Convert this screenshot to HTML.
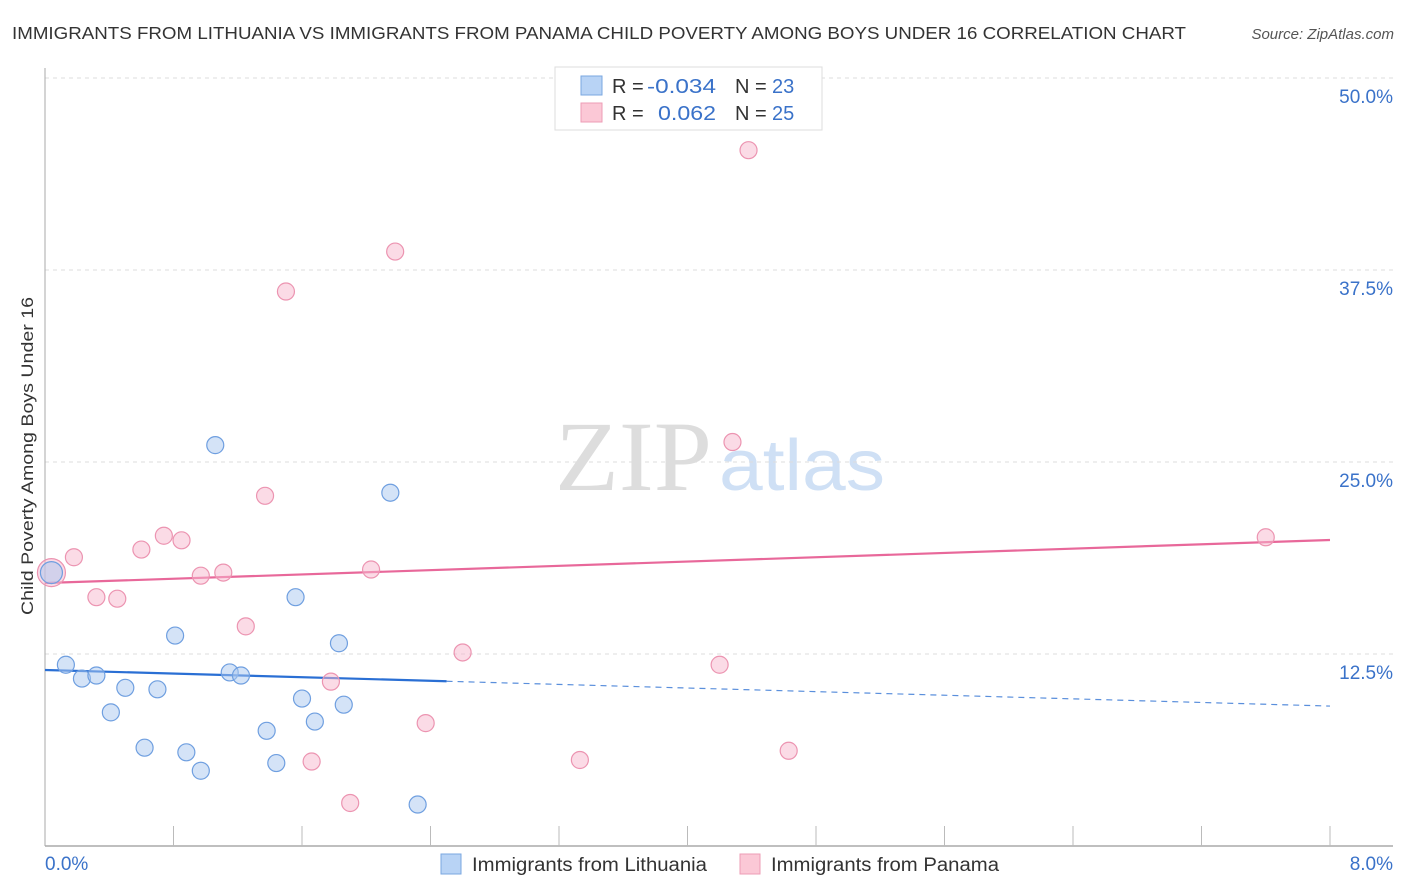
<!DOCTYPE html>
<html><head><meta charset="utf-8">
<style>
body{margin:0;background:#fff;font-family:"Liberation Sans",sans-serif;}
svg{display:block}
</style></head>
<body>
<svg id="chart" width="1406" height="892" xmlns="http://www.w3.org/2000/svg">
<text x="12" y="39" font-size="17.5" fill="#333" textLength="1174" lengthAdjust="spacingAndGlyphs">IMMIGRANTS FROM LITHUANIA VS IMMIGRANTS FROM PANAMA CHILD POVERTY AMONG BOYS UNDER 16 CORRELATION CHART</text>
<text x="1394" y="39" font-size="15" fill="#555" font-style="italic" text-anchor="end">Source: ZipAtlas.com</text>
<text x="33" y="615" font-size="17" fill="#333" textLength="318" lengthAdjust="spacingAndGlyphs" transform="rotate(-90 33 615)">Child Poverty Among Boys Under 16</text>
<g>
<text x="555" y="490" font-size="100" fill="#ddd" font-family="Liberation Serif,serif" textLength="157" lengthAdjust="spacingAndGlyphs">ZIP</text>
<text x="719" y="490" font-size="72" fill="#cfe0f5" textLength="166" lengthAdjust="spacingAndGlyphs">atlas</text>
</g>
<g id="grid"></g>
<g id="axes"></g>
<g id="trend"></g>
<g id="points"></g>
<g>
<rect x="555" y="67" width="267" height="63" fill="#fff" stroke="#ddd"/>
<rect x="581" y="76" width="21" height="19" fill="#b8d3f5" stroke="#7aa7e0"/>
<rect x="581" y="103" width="21" height="19" fill="#fbc8d6" stroke="#ee9cb6"/>
<text x="612" y="93" font-size="20" fill="#333">R =</text>
<text x="647" y="93" font-size="20" fill="#3a72c9" textLength="69" lengthAdjust="spacingAndGlyphs">-0.034</text>
<text x="735" y="93" font-size="20" fill="#333">N =</text>
<text x="772" y="93" font-size="20" fill="#3a72c9">23</text>
<text x="612" y="120" font-size="20" fill="#333">R =</text>
<text x="658" y="120" font-size="20" fill="#3a72c9" textLength="58" lengthAdjust="spacingAndGlyphs">0.062</text>
<text x="735" y="120" font-size="20" fill="#333">N =</text>
<text x="772" y="120" font-size="20" fill="#3a72c9">25</text>
</g>
<g>
<rect x="441" y="854" width="20" height="20" fill="#b8d3f5" stroke="#7aa7e0"/>
<text x="472" y="871" font-size="19" fill="#333" textLength="235" lengthAdjust="spacingAndGlyphs">Immigrants from Lithuania</text>
<rect x="740" y="854" width="20" height="20" fill="#fbc8d6" stroke="#ee9cb6"/>
<text x="771" y="871" font-size="19" fill="#333" textLength="228" lengthAdjust="spacingAndGlyphs">Immigrants from Panama</text>
</g>
</svg>
<script>
const blueX=[0.04,0.13,0.23,0.32,0.41,0.50,0.62,0.70,0.81,0.88,0.97,1.06,1.15,1.22,1.38,1.44,1.56,1.60,1.68,1.83,1.86,2.15,2.32];
const blueY=[17.8,11.8,10.9,11.1,8.7,10.3,6.4,10.2,13.7,6.1,4.9,26.1,11.3,11.1,7.5,5.4,16.2,9.6,8.1,13.2,9.2,23.0,2.7];
const pinkX=[0.04,0.18,0.32,0.45,0.60,0.74,0.85,0.97,1.11,1.25,1.37,1.50,1.66,1.78,1.90,2.03,2.18,2.37,2.60,3.33,4.20,4.28,4.38,4.63,7.60];
const pinkY=[17.8,18.8,16.2,16.1,19.3,20.2,19.9,17.6,17.8,14.3,22.8,36.1,5.5,10.7,2.8,18.0,38.7,8.0,12.6,5.6,11.8,26.3,45.3,6.2,20.1];
const blueTrend=[11.46,9.11];
const pinkTrend=[17.12,19.92];
const yTicks=[12.5,25.0,37.5,50.0];
const xTickLabels=["0.0%","8.0%"];
const NS="http://www.w3.org/2000/svg";
const xs=v=>45+v/8*1285;
const ys=v=>846-v/12.5*192;
function mk(tag,attrs,parent){const e=document.createElementNS(NS,tag);for(const k in attrs)e.setAttribute(k,attrs[k]);parent.appendChild(e);return e;}
const grid=document.getElementById('grid'),axes=document.getElementById('axes'),trend=document.getElementById('trend'),pts=document.getElementById('points');
yTicks.forEach(t=>{
 const l=mk('line',{x1:45,x2:1393,y1:ys(t),y2:ys(t),stroke:'#ddd','stroke-dasharray':'4 4'},grid);
 
 
 const tx=mk('text',{x:1393,y:ys(t)+25,'font-size':19,fill:'#3a72c9','text-anchor':'end'},grid);
 tx.textContent=t.toFixed(1)+'%';
 
 
});
const ya=mk('line',{x1:45,x2:45,y1:68,y2:846,stroke:'#aaa'},axes);


const xa=mk('line',{x1:45,x2:1393,y1:846,y2:846,stroke:'#aaa','stroke-width':1.5},axes);


for(let i=1;i<=10;i++){
 const tk=mk('line',{x1:xs(i*0.8),x2:xs(i*0.8),y1:826,y2:846,stroke:'#bbb'},axes);
 
 
}
const xl0=mk('text',{x:45,y:870,'font-size':19,fill:'#3a72c9'},axes);xl0.textContent=xTickLabels[0];


const xl1=mk('text',{x:1393,y:870,'font-size':19,fill:'#3a72c9','text-anchor':'end'},axes);xl1.textContent=xTickLabels[1];


function pt(x,y,r,fill,stroke,name){
 const c=mk('circle',{cx:xs(x),cy:ys(y),r:r,fill:fill,stroke:stroke,'stroke-width':1.2},pts);
 
 
}
pinkX.forEach((x,i)=>pt(x,pinkY[i],i===0?14:8.5,'rgba(248,184,205,0.5)','#ec94b1','panama-point'));
blueX.forEach((x,i)=>pt(x,blueY[i],i===0?11:8.5,'rgba(170,200,240,0.5)','#6f9fe0','lithuania-point'));
const bAt=x=>blueTrend[0]+(blueTrend[1]-blueTrend[0])*x/8;
const b1=mk('line',{x1:xs(0),y1:ys(bAt(0)),x2:xs(2.5),y2:ys(bAt(2.5)),stroke:'#2a6fd4','stroke-width':2.2},trend);


const b2=mk('line',{x1:xs(2.5),y1:ys(bAt(2.5)),x2:xs(8),y2:ys(bAt(8)),stroke:'#5a8fdc','stroke-width':1.2,'stroke-dasharray':'6 5'},trend);


const p1=mk('line',{x1:xs(0),y1:ys(pinkTrend[0]),x2:xs(8),y2:ys(pinkTrend[1]),stroke:'#e8689a','stroke-width':2.2},trend);


</script>
</body></html>
